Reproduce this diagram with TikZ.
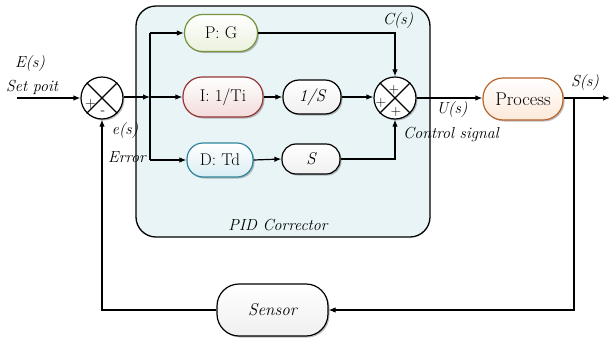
\documentclass[tikz,border=0pt]{standalone}
\usetikzlibrary{arrows.meta,shadows,calc}
\definecolor{pidbg}{HTML}{E9F4F7}
\definecolor{pgreen}{HTML}{77933C}
\definecolor{pgreenf}{HTML}{EBF1DE}
\definecolor{ired}{HTML}{953735}
\definecolor{iredf}{HTML}{F2DCDB}
\definecolor{dblue}{HTML}{31859C}
\definecolor{dbluef}{HTML}{DAEEF3}
\definecolor{porange}{HTML}{B8632A}
\definecolor{porangef}{HTML}{FDE9D9}
\begin{document}
\begin{tikzpicture}[x=1pt,y=-1pt,
  font=\fontsize{17}{20}\selectfont,
  line width=1.2pt,
  arr/.style={-{Latex[length=7pt,width=5.5pt]}},
  shad/.style={drop shadow={shadow xshift=1.5pt,shadow yshift=-1.5pt,opacity=0.25,fill=black}},
  blk/.style={draw, rectangle, rounded corners=16pt, inner sep=0pt, shad},
  sumj/.style={draw, circle, minimum size=42pt, inner sep=0pt, fill=white, shad},
  lab/.style={font=\fontsize{16}{19}\selectfont\itshape},
  sgn/.style={font=\fontsize{14}{16}\selectfont, inner sep=0pt}
]
\useasboundingbox (0,0) rectangle (611,338);
% PID box
\node[draw, rounded corners=20pt, fill=pidbg, line width=1.3pt, minimum width=294pt, minimum height=231pt, inner sep=0pt] (pid) at (283,121.5) {};
\node[lab] (pidl) at (278,225) {PID Corrector};

% summing junctions
\node[sumj] (s1) at (102,98) {};
\draw (s1.north west) -- (s1.south east) (s1.north east) -- (s1.south west);
\node[sgn] (s1p) at (90.5,104) {+};
\node[sgn] (s1m) at (103,113) {-};

\node[sumj] (s2) at (395,98) {};
\draw (s2.north west) -- (s2.south east) (s2.north east) -- (s2.south west);
\node[sgn] (s2a) at (394,90) {+};
\node[sgn] (s2b) at (381,103) {+};
\node[sgn] (s2c) at (396,112) {+};

% blocks
\node[blk, draw=pgreen, top color=white, bottom color=pgreenf, minimum width=73pt, minimum height=37pt, rounded corners=18pt] (P) at (221,33) {P: G};
\node[blk, draw=ired, top color=white, bottom color=iredf, minimum width=80pt, minimum height=40pt, rounded corners=19pt] (I) at (223,97) {I: 1/Ti};
\node[blk, draw=dblue, top color=white, bottom color=dbluef, minimum width=66pt, minimum height=34pt, rounded corners=16pt] (D) at (220,160) {D: Td};
\node[blk, top color=white, bottom color=black!6, minimum width=58pt, minimum height=34pt] (IS) at (312,97) {\itshape 1/S};
\node[blk, top color=white, bottom color=black!6, minimum width=58pt, minimum height=30pt, rounded corners=14pt] (DS) at (311,159) {\itshape S};
\node[blk, draw=porange, top color=white, bottom color=porangef, minimum width=80pt, minimum height=42pt, rounded corners=20pt, font=\fontsize{18.5}{21}\selectfont] (proc) at (523,99) {Process};
\node[blk, top color=white, bottom color=black!6, minimum width=111pt, minimum height=52pt, rounded corners=22pt] (sens) at (272.5,310) {\itshape Sensor};

% coordinates
\coordinate (in) at (17,98);
\coordinate (br) at (150,97);
\coordinate (brt) at (150,33);
\coordinate (brb) at (150,160);
\coordinate (out) at (610,98);
\coordinate (fb) at (574,98);

% connectors
\draw[arr] (in) -- (s1.west);
\draw[arr] (s1.east |- br) -- (br);
\draw[arr] (br) -- (I.west);
\draw (brt) -- (brb);
\draw[arr] (brt) -- (P.west);
\draw[arr] (brb) -- (D.west);
\draw[arr] (I.east) -- (IS.west);
\draw[arr] (D.east) -- (DS.west);
\draw[arr] (IS.east) -- (s2.west |- IS.east);
\draw[arr] (P.east) -| (s2.north);
\draw[arr] (DS.east) -| (s2.south);
\draw[arr] (s2.east) -- (proc.west |- s2.east);
\draw[arr] (proc.east |- out) -- (out);
\draw[arr] (fb) |- (sens.east);
\draw[arr] (sens.west) -| (s1.south);

% labels
\node[lab] (Es) at (30,64) {E(s)};
\node[lab] (sp) at (32,87) {Set poit};
\node[lab] (es) at (125,131) {e(s)};
\node[lab] (err) at (127,157) {Error};
\node[lab] (Cs) at (398,21) {C(s)};
\node[lab] (Us) at (452,110) {U(s)};
\node[lab] (cs) at (451,134) {Control signal};
\node[lab] (Ss) at (585,83) {S(s)};
\end{tikzpicture}
\end{document}
